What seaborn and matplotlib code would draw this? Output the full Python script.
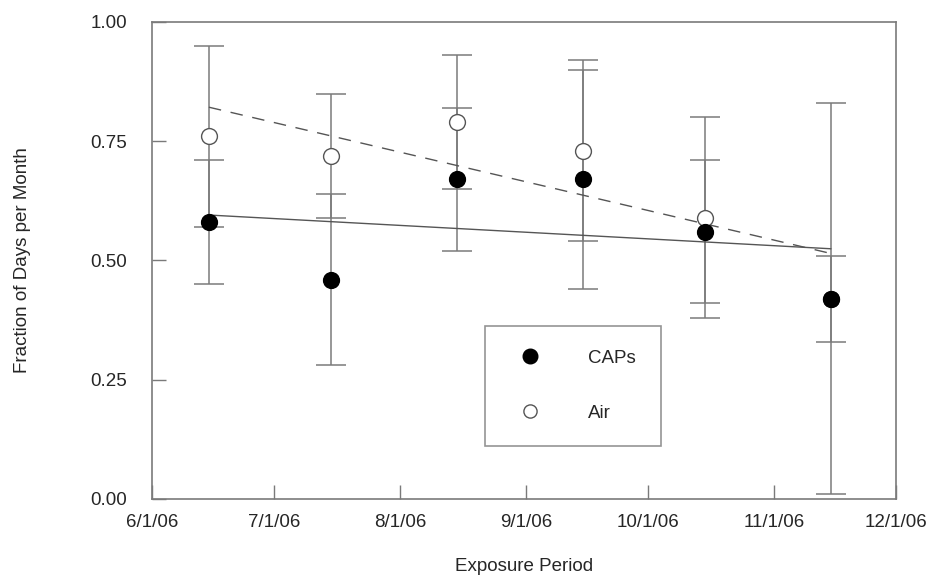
import numpy as np
import pandas as pd
import seaborn as sns
import matplotlib.pyplot as plt
import matplotlib.dates as mdates
from matplotlib.lines import Line2D

# dados (meados de cada mes)
periodos = ['2006-06-15', '2006-07-15', '2006-08-15', '2006-09-15', '2006-10-15', '2006-11-15']
caps = [0.58, 0.46, 0.67, 0.67, 0.56, 0.42]
caps_err = [0.13, 0.18, 0.15, 0.23, 0.15, 0.09]
air = [0.76, 0.72, 0.79, 0.73, 0.59, 0.42]
air_err = [0.19, 0.13, 0.14, 0.19, 0.21, 0.41]
y_ticks = [0.0, 0.25, 0.5, 0.75, 1.0]
x_ticks = ['2006-06-01', '2006-07-01', '2006-08-01', '2006-09-01', '2006-10-01', '2006-11-01', '2006-12-01']

df = pd.DataFrame({
    'data': mdates.date2num(pd.to_datetime(periodos)),
    'caps': caps, 'caps_err': caps_err,
    'air': air, 'air_err': air_err,
})

sns.set_theme(style="ticks")
plt.rcParams['font.family'] = ['Liberation Sans', 'DejaVu Sans']

cinza = '#7a7a7a'
texto = '#262626'

fig = plt.figure(figsize=(9.4, 5.77), dpi=100)
ax = fig.add_axes([0.1617, 0.1352, 0.7915, 0.8267])

# barras de erro
ax.errorbar(df['data'], df['air'], yerr=df['air_err'], fmt='none',
            ecolor=cinza, elinewidth=1.1, capsize=11, capthick=1.1, zorder=1)
ax.errorbar(df['data'], df['caps'], yerr=df['caps_err'], fmt='none',
            ecolor=cinza, elinewidth=1.1, capsize=11, capthick=1.1, zorder=1)

# retas de regressao
sns.regplot(x='data', y='air', data=df, scatter=False, ci=None, truncate=True, ax=ax,
            line_kws={'color': '#555555', 'lw': 1.0, 'dashes': (9, 7), 'zorder': 2})
sns.regplot(x='data', y='caps', data=df, scatter=False, ci=None, truncate=True, ax=ax,
            line_kws={'color': '#555555', 'lw': 1.0, 'zorder': 2})

# pontos
sns.scatterplot(x='data', y='air', data=df, ax=ax, s=130, color='white',
                edgecolor='#555555', linewidth=1.0, zorder=3)
sns.scatterplot(x='data', y='caps', data=df, ax=ax, s=130, color='black',
                edgecolor='black', linewidth=1.0, zorder=4)

ax.set_xlim(mdates.date2num(pd.Timestamp(x_ticks[0])), mdates.date2num(pd.Timestamp(x_ticks[-1])))
ax.set_ylim(0, 1)
ax.set_xticks(mdates.date2num(pd.to_datetime(x_ticks)))
ax.set_xticklabels([f"{d.month}/{d.day}/{d.strftime('%y')}" for d in pd.to_datetime(x_ticks)])
ax.set_yticks(y_ticks)
ax.set_yticklabels([f"{v:.2f}" for v in y_ticks])

ax.tick_params(axis='both', direction='in', length=10, width=1.0, color=cinza,
               labelsize=13.5, labelcolor=texto)
ax.tick_params(axis='y', pad=18)
ax.tick_params(axis='x', pad=11)
for s in ax.spines.values():
    s.set_visible(True)
    s.set_color(cinza)
    s.set_linewidth(1.2)

ax.set_xlabel('Exposure Period', fontsize=13.5, color=texto, labelpad=19)
ax.set_ylabel('Fraction of Days per Month', fontsize=13.5, color=texto, labelpad=43)

handles = [
    Line2D([], [], marker='o', linestyle='none', markersize=10.5, markerfacecolor='black',
           markeredgecolor='black'),
    Line2D([], [], marker='o', linestyle='none', markersize=9.5, markerfacecolor='white',
           markeredgecolor='#555555'),
]
leg = ax.legend(handles, ['CAPs', 'Air'], loc='lower left',
                bbox_to_anchor=(0.4476, 0.111, 0.2366, 0.243), mode='expand',
                fontsize=13.5, frameon=True, fancybox=False, borderpad=1.3,
                labelspacing=2.0, handlelength=2.2, handletextpad=2.0, borderaxespad=0)
leg.get_frame().set_edgecolor(cinza)
leg.get_frame().set_linewidth(1.2)
for t in leg.get_texts():
    t.set_color(texto)

plt.savefig('out.png', dpi=100)
